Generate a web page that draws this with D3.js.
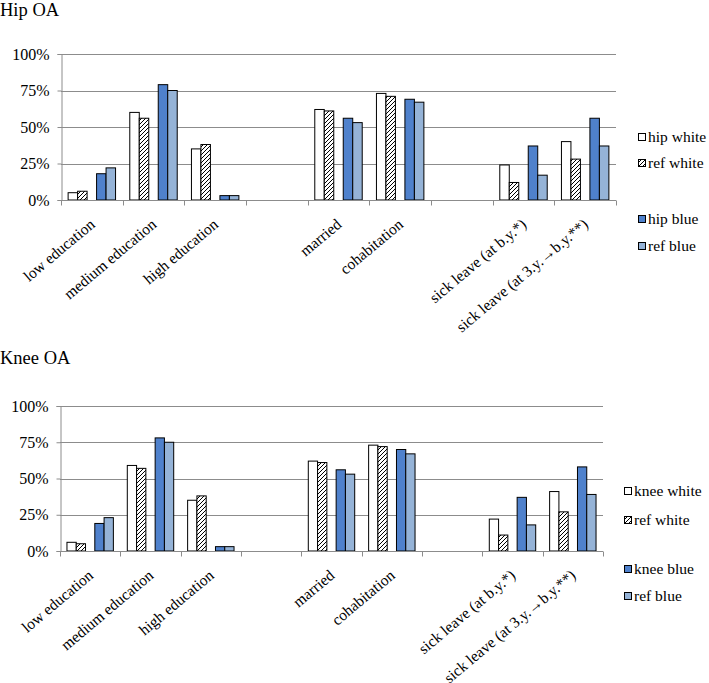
<!DOCTYPE html>
<html>
<head>
<meta charset="utf-8">
<script src="https://cdn.jsdelivr.net/npm/d3@7"></script>
<style>
  body { margin: 0; background: #fff; }
  svg { display: block; }
  svg text { font-family: "Liberation Serif", "Times New Roman", serif; }
</style>
</head>
<body>
<div id="chart"></div>
<script>
// Catégories (deux emplacements vides servent de séparateurs)
const categories = ["low education", "medium education", "high education", "",
  "married", "cohabitation", "", "sick leave (at b.y.*)", "sick leave (at 3.y.\u2192b.y.**)"];

const yTicks = [0, 25, 50, 75, 100];

// Hip OA
const hipWhite    = [5, 60, 35, null, 62, 73, null, 24, 40];
const hipRefWhite = [6, 56, 38, null, 61, 71, null, 12, 28];
const hipBlue     = [18, 79, 3, null, 56, 69, null, 37, 56];
const hipRefBlue  = [22, 75, 3, null, 53, 67, null, 17, 37];

// Knee OA
const kneeWhite    = [6, 59, 35, null, 62, 73, null, 22, 41];
const kneeRefWhite = [5, 57, 38, null, 61, 72, null, 11, 27];
const kneeBlue     = [19, 78, 3, null, 56, 70, null, 37, 58];
const kneeRefBlue  = [23, 75, 3, null, 53, 67, null, 18, 39];

const W = 709, H = 683;
const serif = "Liberation Serif";
const gridColor = "#8c8c8c";
const blue = "#4f81cc";
const lightBlue = "#95b3d7";

const svg = d3.select("#chart").append("svg")
  .attr("width", W)
  .attr("height", H)
  .attr("font-family", serif);

// Motif hachuré pour les séries "ref white"
const defs = svg.append("defs");
const pat = defs.append("pattern")
  .attr("id", "hatch")
  .attr("patternUnits", "userSpaceOnUse")
  .attr("width", 4)
  .attr("height", 4);
pat.append("rect").attr("width", 4).attr("height", 4).attr("fill", "#fff");
pat.append("path")
  .attr("d", "M-1,1 l2,-2 M0,4 l4,-4 M3,5 l2,-2")
  .attr("stroke", "#000")
  .attr("stroke-width", 1);

function drawChart(opts) {
  const g = svg.append("g");

  // Titre
  g.append("text")
    .attr("x", 0)
    .attr("y", opts.titleY)
    .attr("font-family", serif)
    .attr("font-size", 18.5)
    .text(opts.title);

  const y = d3.scaleLinear().domain([0, 100]).range([opts.y0, opts.y100]);
  const x0 = d3.scaleBand()
    .domain(d3.range(categories.length))
    .range([opts.left, opts.right])
    .paddingInner(0)
    .paddingOuter(0);
  // 5 positions : white, ref white, (vide), blue, ref blue
  const keys = ["white", "refWhite", "gap", "blue", "refBlue"];
  const x1 = d3.scaleBand()
    .domain(keys)
    .range([0, x0.bandwidth()])
    .paddingInner(0)
    .paddingOuter(0.75);

  // Lignes de grille
  g.append("g")
    .selectAll("line")
    .data(yTicks.filter(d => d > 0))
    .join("line")
    .attr("x1", opts.left)
    .attr("x2", opts.right)
    .attr("y1", d => Math.round(y(d)) + 0.5)
    .attr("y2", d => Math.round(y(d)) + 0.5)
    .attr("stroke", gridColor);

  // Axe Y
  const yAxis = d3.axisLeft(y)
    .tickValues(yTicks)
    .tickSize(4)
    .tickFormat(d => d + "%");
  const ya = g.append("g")
    .attr("transform", `translate(${Math.round(opts.left) + 0.5},0)`)
    .call(yAxis)
    .attr("font-family", serif)
    .attr("font-size", 16);
  ya.select(".domain").attr("stroke", gridColor);
  ya.selectAll(".tick line").attr("stroke", gridColor);
  ya.selectAll(".tick text")
    .attr("fill", "#000")
    .attr("x", -12);

  // Barres
  const series = [
    { key: "white", values: opts.white, fill: "#fff" },
    { key: "refWhite", values: opts.refWhite, fill: "url(#hatch)" },
    { key: "blue", values: opts.blue, fill: blue },
    { key: "refBlue", values: opts.refBlue, fill: lightBlue }
  ];
  series.forEach(s => {
    g.append("g")
      .selectAll("rect")
      .data(s.values.map((v, i) => ({ v, i })).filter(d => d.v != null))
      .join("rect")
      .attr("x", d => x0(d.i) + x1(s.key))
      .attr("y", d => y(d.v))
      .attr("width", x1.bandwidth())
      .attr("height", d => y(0) - y(d.v))
      .attr("fill", s.fill)
      .attr("stroke", "#000")
      .attr("stroke-width", 1);
  });

  // Axe X : ligne de base et graduations aux frontières
  const base = Math.round(y(0)) + 0.5;
  g.append("line")
    .attr("x1", opts.left)
    .attr("x2", opts.right)
    .attr("y1", base)
    .attr("y2", base)
    .attr("stroke", gridColor);
  g.append("g")
    .selectAll("line")
    .data(d3.range(categories.length + 1))
    .join("line")
    .attr("x1", i => Math.round(opts.left + i * x0.step()) + 0.5)
    .attr("x2", i => Math.round(opts.left + i * x0.step()) + 0.5)
    .attr("y1", base)
    .attr("y2", base + 5)
    .attr("stroke", gridColor);

  // Étiquettes des catégories, pivotées d'environ -40°
  g.append("g")
    .selectAll("text")
    .data(categories.map((c, i) => ({ c, i })).filter(d => d.c))
    .join("text")
    .attr("transform", d =>
      `translate(${x0(d.i) + x0.bandwidth() / 2 + 4},${y(0) + 26}) rotate(-40)`)
    .attr("text-anchor", "end")
    .attr("font-family", serif)
    .attr("font-size", 15.5)
    .text(d => d.c);

  // Légende
  const legend = [
    { label: opts.name + " white", fill: "#fff", y: opts.legendY[0] },
    { label: "ref white", fill: "url(#hatch)", y: opts.legendY[1] },
    { label: opts.name + " blue", fill: blue, y: opts.legendY[2] },
    { label: "ref blue", fill: lightBlue, y: opts.legendY[3] }
  ];
  const lg = g.append("g")
    .selectAll("g")
    .data(legend)
    .join("g")
    .attr("transform", d => `translate(${opts.legendX},${d.y})`);
  lg.append("rect")
    .attr("x", 0.5)
    .attr("y", -3.5)
    .attr("width", 7)
    .attr("height", 7)
    .attr("fill", d => d.fill)
    .attr("stroke", "#000");
  lg.append("text")
    .attr("x", 10)
    .attr("dy", "0.33em")
    .attr("font-family", serif)
    .attr("font-size", 15.5)
    .text(d => d.label);
}

drawChart({
  title: "Hip OA", name: "hip", titleY: 16,
  left: 61, right: 616, y0: 200, y100: 54,
  white: hipWhite, refWhite: hipRefWhite, blue: hipBlue, refBlue: hipRefBlue,
  legendX: 638, legendY: [137, 163, 219, 246]
});

drawChart({
  title: "Knee OA", name: "knee", titleY: 364,
  left: 60, right: 603, y0: 551, y100: 406,
  white: kneeWhite, refWhite: kneeRefWhite, blue: kneeBlue, refBlue: kneeRefBlue,
  legendX: 624, legendY: [491, 520, 569, 596]
});
</script>
</body>
</html>
